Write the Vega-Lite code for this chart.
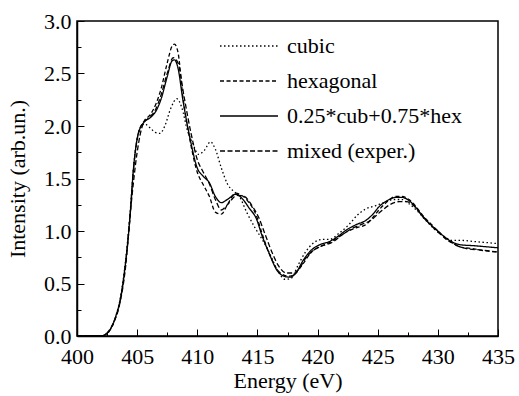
{
  "$schema": "https://vega.github.io/schema/vega-lite/v6.json",
  "width": 421,
  "height": 315,
  "autosize": {"type": "none"},
  "padding": {"left": 77, "top": 21, "right": 21, "bottom": 60},
  "background": "white",
  "config": {
    "font": "Liberation Serif",
    "view": {"stroke": "black", "strokeWidth": 1.5},
    "text": {"font": "Liberation Serif"},
    "legend": {"labelFont": "Liberation Serif", "titleFont": "Liberation Serif"},
    "axis": {"labelFont": "Liberation Serif", "titleFont": "Liberation Serif", "labelColor": "black", "titleColor": "black", "labelFontSize": 22, "titleFontSize": 22, "titleFontWeight": "normal", "domainColor": "black", "tickColor": "black", "grid": false}
  },
  "datasets": {
    "curves": [
      {"E": 400, "I": 0, "s": "0.25*cub+0.75*hex"},
      {"E": 401, "I": 0, "s": "0.25*cub+0.75*hex"},
      {"E": 402, "I": 0, "s": "0.25*cub+0.75*hex"},
      {"E": 402.3, "I": 0.01, "s": "0.25*cub+0.75*hex"},
      {"E": 402.7, "I": 0.05, "s": "0.25*cub+0.75*hex"},
      {"E": 403.2, "I": 0.18, "s": "0.25*cub+0.75*hex"},
      {"E": 403.6, "I": 0.35, "s": "0.25*cub+0.75*hex"},
      {"E": 404, "I": 0.66, "s": "0.25*cub+0.75*hex"},
      {"E": 404.4, "I": 1.13, "s": "0.25*cub+0.75*hex"},
      {"E": 404.7, "I": 1.6, "s": "0.25*cub+0.75*hex"},
      {"E": 405.1, "I": 1.93, "s": "0.25*cub+0.75*hex"},
      {"E": 405.6, "I": 2.04, "s": "0.25*cub+0.75*hex"},
      {"E": 406.1, "I": 2.08, "s": "0.25*cub+0.75*hex"},
      {"E": 406.6, "I": 2.15, "s": "0.25*cub+0.75*hex"},
      {"E": 407, "I": 2.26, "s": "0.25*cub+0.75*hex"},
      {"E": 407.5, "I": 2.47, "s": "0.25*cub+0.75*hex"},
      {"E": 407.9, "I": 2.62, "s": "0.25*cub+0.75*hex"},
      {"E": 408.1, "I": 2.63, "s": "0.25*cub+0.75*hex"},
      {"E": 408.4, "I": 2.55, "s": "0.25*cub+0.75*hex"},
      {"E": 408.8, "I": 2.25, "s": "0.25*cub+0.75*hex"},
      {"E": 409.4, "I": 1.88, "s": "0.25*cub+0.75*hex"},
      {"E": 410, "I": 1.6, "s": "0.25*cub+0.75*hex"},
      {"E": 410.5, "I": 1.52, "s": "0.25*cub+0.75*hex"},
      {"E": 411, "I": 1.46, "s": "0.25*cub+0.75*hex"},
      {"E": 411.5, "I": 1.33, "s": "0.25*cub+0.75*hex"},
      {"E": 412, "I": 1.27, "s": "0.25*cub+0.75*hex"},
      {"E": 412.5, "I": 1.3, "s": "0.25*cub+0.75*hex"},
      {"E": 413.2, "I": 1.35, "s": "0.25*cub+0.75*hex"},
      {"E": 413.8, "I": 1.3, "s": "0.25*cub+0.75*hex"},
      {"E": 414.3, "I": 1.22, "s": "0.25*cub+0.75*hex"},
      {"E": 414.9, "I": 1.12, "s": "0.25*cub+0.75*hex"},
      {"E": 415.4, "I": 0.95, "s": "0.25*cub+0.75*hex"},
      {"E": 416, "I": 0.78, "s": "0.25*cub+0.75*hex"},
      {"E": 416.6, "I": 0.63, "s": "0.25*cub+0.75*hex"},
      {"E": 417.2, "I": 0.57, "s": "0.25*cub+0.75*hex"},
      {"E": 417.7, "I": 0.56, "s": "0.25*cub+0.75*hex"},
      {"E": 418.2, "I": 0.6, "s": "0.25*cub+0.75*hex"},
      {"E": 418.8, "I": 0.72, "s": "0.25*cub+0.75*hex"},
      {"E": 419.5, "I": 0.82, "s": "0.25*cub+0.75*hex"},
      {"E": 420.2, "I": 0.87, "s": "0.25*cub+0.75*hex"},
      {"E": 421, "I": 0.9, "s": "0.25*cub+0.75*hex"},
      {"E": 421.7, "I": 0.95, "s": "0.25*cub+0.75*hex"},
      {"E": 422.4, "I": 1.01, "s": "0.25*cub+0.75*hex"},
      {"E": 423.2, "I": 1.06, "s": "0.25*cub+0.75*hex"},
      {"E": 424, "I": 1.1, "s": "0.25*cub+0.75*hex"},
      {"E": 424.6, "I": 1.16, "s": "0.25*cub+0.75*hex"},
      {"E": 425.1, "I": 1.23, "s": "0.25*cub+0.75*hex"},
      {"E": 425.8, "I": 1.29, "s": "0.25*cub+0.75*hex"},
      {"E": 426.5, "I": 1.32, "s": "0.25*cub+0.75*hex"},
      {"E": 427, "I": 1.32, "s": "0.25*cub+0.75*hex"},
      {"E": 427.6, "I": 1.29, "s": "0.25*cub+0.75*hex"},
      {"E": 428.2, "I": 1.22, "s": "0.25*cub+0.75*hex"},
      {"E": 428.8, "I": 1.13, "s": "0.25*cub+0.75*hex"},
      {"E": 429.4, "I": 1.06, "s": "0.25*cub+0.75*hex"},
      {"E": 430, "I": 1.0, "s": "0.25*cub+0.75*hex"},
      {"E": 430.7, "I": 0.93, "s": "0.25*cub+0.75*hex"},
      {"E": 431.3, "I": 0.89, "s": "0.25*cub+0.75*hex"},
      {"E": 431.8, "I": 0.87, "s": "0.25*cub+0.75*hex"},
      {"E": 433, "I": 0.86, "s": "0.25*cub+0.75*hex"},
      {"E": 434, "I": 0.85, "s": "0.25*cub+0.75*hex"},
      {"E": 435, "I": 0.84, "s": "0.25*cub+0.75*hex"},

      {"E": 400, "I": 0, "s": "cubic"},
      {"E": 401, "I": 0, "s": "cubic"},
      {"E": 402, "I": 0, "s": "cubic"},
      {"E": 402.3, "I": 0.01, "s": "cubic"},
      {"E": 402.7, "I": 0.05, "s": "cubic"},
      {"E": 403.2, "I": 0.18, "s": "cubic"},
      {"E": 403.6, "I": 0.36, "s": "cubic"},
      {"E": 404, "I": 0.68, "s": "cubic"},
      {"E": 404.4, "I": 1.15, "s": "cubic"},
      {"E": 404.7, "I": 1.6, "s": "cubic"},
      {"E": 405.1, "I": 1.93, "s": "cubic"},
      {"E": 405.6, "I": 2.02, "s": "cubic"},
      {"E": 406.1, "I": 1.98, "s": "cubic"},
      {"E": 406.5, "I": 1.94, "s": "cubic"},
      {"E": 406.9, "I": 1.93, "s": "cubic"},
      {"E": 407.3, "I": 2.0, "s": "cubic"},
      {"E": 407.8, "I": 2.17, "s": "cubic"},
      {"E": 408.3, "I": 2.26, "s": "cubic"},
      {"E": 408.7, "I": 2.18, "s": "cubic"},
      {"E": 409.2, "I": 1.95, "s": "cubic"},
      {"E": 409.6, "I": 1.84, "s": "cubic"},
      {"E": 410.1, "I": 1.73, "s": "cubic"},
      {"E": 410.6, "I": 1.77, "s": "cubic"},
      {"E": 411.1, "I": 1.85, "s": "cubic"},
      {"E": 411.5, "I": 1.78, "s": "cubic"},
      {"E": 412, "I": 1.6, "s": "cubic"},
      {"E": 412.5, "I": 1.45, "s": "cubic"},
      {"E": 413, "I": 1.38, "s": "cubic"},
      {"E": 413.5, "I": 1.33, "s": "cubic"},
      {"E": 414.1, "I": 1.18, "s": "cubic"},
      {"E": 414.8, "I": 1.03, "s": "cubic"},
      {"E": 415.5, "I": 0.9, "s": "cubic"},
      {"E": 416, "I": 0.79, "s": "cubic"},
      {"E": 416.7, "I": 0.62, "s": "cubic"},
      {"E": 417.3, "I": 0.54, "s": "cubic"},
      {"E": 417.8, "I": 0.55, "s": "cubic"},
      {"E": 418.4, "I": 0.68, "s": "cubic"},
      {"E": 419, "I": 0.8, "s": "cubic"},
      {"E": 419.6, "I": 0.88, "s": "cubic"},
      {"E": 420.4, "I": 0.92, "s": "cubic"},
      {"E": 421, "I": 0.92, "s": "cubic"},
      {"E": 421.8, "I": 0.98, "s": "cubic"},
      {"E": 422.6, "I": 1.06, "s": "cubic"},
      {"E": 423.3, "I": 1.15, "s": "cubic"},
      {"E": 424, "I": 1.21, "s": "cubic"},
      {"E": 424.8, "I": 1.24, "s": "cubic"},
      {"E": 425.5, "I": 1.27, "s": "cubic"},
      {"E": 426.3, "I": 1.3, "s": "cubic"},
      {"E": 427, "I": 1.3, "s": "cubic"},
      {"E": 427.6, "I": 1.26, "s": "cubic"},
      {"E": 428.3, "I": 1.19, "s": "cubic"},
      {"E": 429, "I": 1.1, "s": "cubic"},
      {"E": 429.7, "I": 1.02, "s": "cubic"},
      {"E": 430.5, "I": 0.95, "s": "cubic"},
      {"E": 431.2, "I": 0.91, "s": "cubic"},
      {"E": 432, "I": 0.91, "s": "cubic"},
      {"E": 433, "I": 0.9, "s": "cubic"},
      {"E": 434, "I": 0.89, "s": "cubic"},
      {"E": 435, "I": 0.88, "s": "cubic"},

      {"E": 400, "I": 0, "s": "hexagonal"},
      {"E": 401, "I": 0, "s": "hexagonal"},
      {"E": 402, "I": 0, "s": "hexagonal"},
      {"E": 402.3, "I": 0.01, "s": "hexagonal"},
      {"E": 402.7, "I": 0.05, "s": "hexagonal"},
      {"E": 403.2, "I": 0.17, "s": "hexagonal"},
      {"E": 403.6, "I": 0.34, "s": "hexagonal"},
      {"E": 404, "I": 0.65, "s": "hexagonal"},
      {"E": 404.4, "I": 1.12, "s": "hexagonal"},
      {"E": 404.7, "I": 1.59, "s": "hexagonal"},
      {"E": 405.1, "I": 1.93, "s": "hexagonal"},
      {"E": 405.6, "I": 2.05, "s": "hexagonal"},
      {"E": 406.1, "I": 2.11, "s": "hexagonal"},
      {"E": 406.6, "I": 2.22, "s": "hexagonal"},
      {"E": 407, "I": 2.36, "s": "hexagonal"},
      {"E": 407.5, "I": 2.6, "s": "hexagonal"},
      {"E": 407.9, "I": 2.76, "s": "hexagonal"},
      {"E": 408.1, "I": 2.78, "s": "hexagonal"},
      {"E": 408.4, "I": 2.7, "s": "hexagonal"},
      {"E": 408.8, "I": 2.28, "s": "hexagonal"},
      {"E": 409.4, "I": 1.86, "s": "hexagonal"},
      {"E": 410, "I": 1.56, "s": "hexagonal"},
      {"E": 410.5, "I": 1.44, "s": "hexagonal"},
      {"E": 411, "I": 1.33, "s": "hexagonal"},
      {"E": 411.5, "I": 1.18, "s": "hexagonal"},
      {"E": 412, "I": 1.16, "s": "hexagonal"},
      {"E": 412.5, "I": 1.25, "s": "hexagonal"},
      {"E": 413.2, "I": 1.36, "s": "hexagonal"},
      {"E": 413.8, "I": 1.33, "s": "hexagonal"},
      {"E": 414.3, "I": 1.27, "s": "hexagonal"},
      {"E": 414.9, "I": 1.15, "s": "hexagonal"},
      {"E": 415.4, "I": 0.97, "s": "hexagonal"},
      {"E": 416, "I": 0.78, "s": "hexagonal"},
      {"E": 416.6, "I": 0.64, "s": "hexagonal"},
      {"E": 417.2, "I": 0.58, "s": "hexagonal"},
      {"E": 417.7, "I": 0.57, "s": "hexagonal"},
      {"E": 418.2, "I": 0.6, "s": "hexagonal"},
      {"E": 418.8, "I": 0.69, "s": "hexagonal"},
      {"E": 419.5, "I": 0.8, "s": "hexagonal"},
      {"E": 420.2, "I": 0.85, "s": "hexagonal"},
      {"E": 421, "I": 0.89, "s": "hexagonal"},
      {"E": 421.7, "I": 0.94, "s": "hexagonal"},
      {"E": 422.4, "I": 0.99, "s": "hexagonal"},
      {"E": 423.2, "I": 1.03, "s": "hexagonal"},
      {"E": 424, "I": 1.06, "s": "hexagonal"},
      {"E": 424.6, "I": 1.13, "s": "hexagonal"},
      {"E": 425.1, "I": 1.2, "s": "hexagonal"},
      {"E": 425.8, "I": 1.28, "s": "hexagonal"},
      {"E": 426.5, "I": 1.33, "s": "hexagonal"},
      {"E": 427, "I": 1.33, "s": "hexagonal"},
      {"E": 427.6, "I": 1.3, "s": "hexagonal"},
      {"E": 428.2, "I": 1.23, "s": "hexagonal"},
      {"E": 428.8, "I": 1.14, "s": "hexagonal"},
      {"E": 429.4, "I": 1.07, "s": "hexagonal"},
      {"E": 430, "I": 1.0, "s": "hexagonal"},
      {"E": 430.7, "I": 0.92, "s": "hexagonal"},
      {"E": 431.3, "I": 0.88, "s": "hexagonal"},
      {"E": 431.8, "I": 0.85, "s": "hexagonal"},
      {"E": 433, "I": 0.83, "s": "hexagonal"},
      {"E": 434, "I": 0.81, "s": "hexagonal"},
      {"E": 435, "I": 0.8, "s": "hexagonal"},

      {"E": 400, "I": 0, "s": "mixed (exper.)"},
      {"E": 401, "I": 0, "s": "mixed (exper.)"},
      {"E": 402, "I": 0, "s": "mixed (exper.)"},
      {"E": 402.5, "I": 0.03, "s": "mixed (exper.)"},
      {"E": 403, "I": 0.12, "s": "mixed (exper.)"},
      {"E": 403.5, "I": 0.28, "s": "mixed (exper.)"},
      {"E": 404, "I": 0.62, "s": "mixed (exper.)"},
      {"E": 404.5, "I": 1.25, "s": "mixed (exper.)"},
      {"E": 405, "I": 1.75, "s": "mixed (exper.)"},
      {"E": 405.5, "I": 2.02, "s": "mixed (exper.)"},
      {"E": 406, "I": 2.08, "s": "mixed (exper.)"},
      {"E": 406.5, "I": 2.15, "s": "mixed (exper.)"},
      {"E": 407, "I": 2.3, "s": "mixed (exper.)"},
      {"E": 407.5, "I": 2.5, "s": "mixed (exper.)"},
      {"E": 408, "I": 2.65, "s": "mixed (exper.)"},
      {"E": 408.4, "I": 2.6, "s": "mixed (exper.)"},
      {"E": 408.9, "I": 2.28, "s": "mixed (exper.)"},
      {"E": 409.5, "I": 1.92, "s": "mixed (exper.)"},
      {"E": 410, "I": 1.68, "s": "mixed (exper.)"},
      {"E": 410.5, "I": 1.56, "s": "mixed (exper.)"},
      {"E": 411, "I": 1.45, "s": "mixed (exper.)"},
      {"E": 411.5, "I": 1.3, "s": "mixed (exper.)"},
      {"E": 412, "I": 1.2, "s": "mixed (exper.)"},
      {"E": 412.5, "I": 1.25, "s": "mixed (exper.)"},
      {"E": 413.3, "I": 1.34, "s": "mixed (exper.)"},
      {"E": 413.9, "I": 1.33, "s": "mixed (exper.)"},
      {"E": 414.5, "I": 1.25, "s": "mixed (exper.)"},
      {"E": 415.1, "I": 1.13, "s": "mixed (exper.)"},
      {"E": 415.6, "I": 0.98, "s": "mixed (exper.)"},
      {"E": 416.2, "I": 0.8, "s": "mixed (exper.)"},
      {"E": 416.8, "I": 0.66, "s": "mixed (exper.)"},
      {"E": 417.4, "I": 0.6, "s": "mixed (exper.)"},
      {"E": 417.9, "I": 0.6, "s": "mixed (exper.)"},
      {"E": 418.4, "I": 0.63, "s": "mixed (exper.)"},
      {"E": 419, "I": 0.74, "s": "mixed (exper.)"},
      {"E": 419.7, "I": 0.82, "s": "mixed (exper.)"},
      {"E": 420.4, "I": 0.86, "s": "mixed (exper.)"},
      {"E": 421.2, "I": 0.89, "s": "mixed (exper.)"},
      {"E": 422, "I": 0.96, "s": "mixed (exper.)"},
      {"E": 422.8, "I": 1.02, "s": "mixed (exper.)"},
      {"E": 423.6, "I": 1.06, "s": "mixed (exper.)"},
      {"E": 424.4, "I": 1.1, "s": "mixed (exper.)"},
      {"E": 425.2, "I": 1.18, "s": "mixed (exper.)"},
      {"E": 426, "I": 1.25, "s": "mixed (exper.)"},
      {"E": 426.8, "I": 1.28, "s": "mixed (exper.)"},
      {"E": 427.4, "I": 1.28, "s": "mixed (exper.)"},
      {"E": 428, "I": 1.24, "s": "mixed (exper.)"},
      {"E": 428.6, "I": 1.16, "s": "mixed (exper.)"},
      {"E": 429.3, "I": 1.07, "s": "mixed (exper.)"},
      {"E": 430, "I": 0.99, "s": "mixed (exper.)"},
      {"E": 430.8, "I": 0.92, "s": "mixed (exper.)"},
      {"E": 431.6, "I": 0.86, "s": "mixed (exper.)"},
      {"E": 432.5, "I": 0.83, "s": "mixed (exper.)"},
      {"E": 433.5, "I": 0.82, "s": "mixed (exper.)"},
      {"E": 435, "I": 0.8, "s": "mixed (exper.)"}
    ]
  },
  "data": {"name": "curves"},
  "mark": {"type": "line", "interpolate": "monotone", "color": "black", "clip": true},
  "encoding": {
    "x": {
      "field": "E", "type": "quantitative",
      "scale": {"domain": [400, 435], "nice": false, "zero": false},
      "axis": {
        "title": "Energy (eV)",
        "values": [400, 402.5, 405, 407.5, 410, 412.5, 415, 417.5, 420, 422.5, 425, 427.5, 430, 432.5, 435],
        "labelExpr": "datum.value % 5 === 0 ? datum.label : ''",
        "format": "d",
        "tickSize": {"condition": {"test": "datum.value % 5 === 0", "value": -7}, "value": -4},
        "labelPadding": 17,
        "labelFlush": false,
        "labelOverlap": false,
        "titlePadding": 0,
        "domainWidth": 1.5
      }
    },
    "y": {
      "field": "I", "type": "quantitative",
      "scale": {"domain": [0, 3], "nice": false},
      "axis": {
        "title": "Intensity (arb.un.)",
        "values": [0, 0.25, 0.5, 0.75, 1, 1.25, 1.5, 1.75, 2, 2.25, 2.5, 2.75, 3],
        "labelExpr": "abs(datum.value * 2 - round(datum.value * 2)) < 0.01 ? format(datum.value, '.1f') : ''",
        "tickSize": {"condition": {"test": "abs(datum.value * 2 - round(datum.value * 2)) < 0.01", "value": -7}, "value": -4},
        "labelPadding": 13,
        "labelFlush": false,
        "labelOverlap": false,
        "titlePadding": 14,
        "domainWidth": 1.5
      }
    },
    "strokeDash": {
      "field": "s", "type": "nominal",
      "scale": {
        "domain": ["cubic", "hexagonal", "0.25*cub+0.75*hex", "mixed (exper.)"],
        "range": [[1.5, 2.5], [4, 2.5], [1, 0], [5, 2.5]]
      },
      "legend": {
        "title": null,
        "orient": "none",
        "legendX": 161,
        "legendY": 14,
        "padding": 0,
        "symbolType": "M-4,0H4",
        "symbolSize": 210,
        "symbolStrokeColor": "black",
        "symbolStrokeWidth": 1.5,
        "labelFont": "Liberation Serif",
        "labelFontSize": 22,
        "labelColor": "black",
        "labelOffset": 27,
        "labelLimit": 400,
        "rowPadding": 13
      }
    },
    "strokeWidth": {
      "field": "s", "type": "nominal",
      "scale": {
        "domain": ["cubic", "hexagonal", "0.25*cub+0.75*hex", "mixed (exper.)"],
        "range": [1.3, 1.3, 2.6, 2.2]
      },
      "legend": null
    }
  }
}
